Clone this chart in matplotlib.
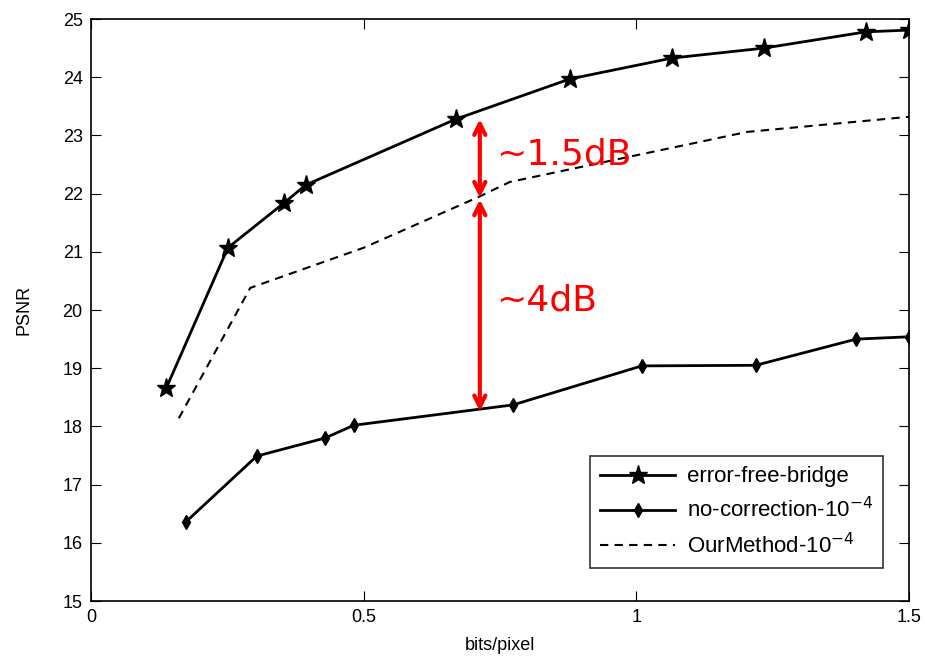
import matplotlib.pyplot as plt

# error-free-bridge
efb_x = [0.138, 0.251, 0.354, 0.394, 0.669, 0.878, 1.066, 1.234, 1.421, 1.5]
efb_y = [18.66, 21.07, 21.84, 22.15, 23.28, 23.97, 24.33, 24.50, 24.78, 24.81]

# no-correction-10^-4
noc_x = [0.174, 0.304, 0.429, 0.482, 0.774, 1.010, 1.219, 1.403, 1.5]
noc_y = [16.36, 17.49, 17.80, 18.02, 18.37, 19.04, 19.05, 19.50, 19.54]

# OurMethod-10^-4
our_x = [0.161, 0.292, 0.50, 0.71, 0.768, 1.203, 1.5]
our_y = [18.14, 20.38, 21.07, 21.94, 22.20, 23.06, 23.32]

labels = ['error-free-bridge', 'no-correction-10$^{-4}$', 'OurMethod-10$^{-4}$']

arrow_x = 0.713
gap1 = (23.28, 21.93)
gap2 = (21.90, 18.26)

plt.rcParams['font.family'] = ['Liberation Sans', 'DejaVu Sans']

fig = plt.figure(figsize=(9.25, 6.63), dpi=100)
ax = fig.add_axes([0.0984, 0.0935, 0.8843, 0.8778])

ax.plot(efb_x, efb_y, color='black', lw=2, marker='*', markersize=14,
        markerfacecolor='black', label=labels[0])
ax.plot(noc_x, noc_y, color='black', lw=2, marker='d', markersize=7,
        label=labels[1])
ax.plot(our_x, our_y, color='black', lw=1.5, ls=(0, (4, 3)), label=labels[2])

for y0, y1 in (gap1, gap2):
    ax.annotate('', xy=(arrow_x, y1), xytext=(arrow_x, y0),
                arrowprops=dict(arrowstyle='<->,head_length=0.8,head_width=0.4',
                                color='red', lw=3, shrinkA=0, shrinkB=0))

ax.text(0.742, 22.67, '~1.5dB', color='red', fontsize=26, va='center',
        family='DejaVu Sans')
ax.text(0.742, 20.17, '~4dB', color='red', fontsize=26, va='center',
        family='DejaVu Sans')

ax.set_xlim(0, 1.5)
ax.set_ylim(15, 25)
ax.set_xticks([0, 0.5, 1, 1.5])
ax.set_xticklabels(['0', '0.5', '1', '1.5'])
ax.set_yticks(range(15, 26))
ax.tick_params(direction='in', top=True, right=True, labelsize=13, length=7,
               pad=6)
ax.set_xlabel('bits/pixel', fontsize=13, labelpad=8)
ax.set_ylabel('PSNR', fontsize=13, labelpad=22)
for s in ax.spines.values():
    s.set_linewidth(1.2)

leg = ax.legend(loc='lower right', bbox_to_anchor=(0.968, 0.057), fontsize=16,
                frameon=True, fancybox=False, edgecolor='black',
                handlelength=3.4, handletextpad=0.5, borderpad=0.45,
                labelspacing=0.45, borderaxespad=0)
leg.get_frame().set_linewidth(1.2)

fig.savefig('out.png', dpi=100)
